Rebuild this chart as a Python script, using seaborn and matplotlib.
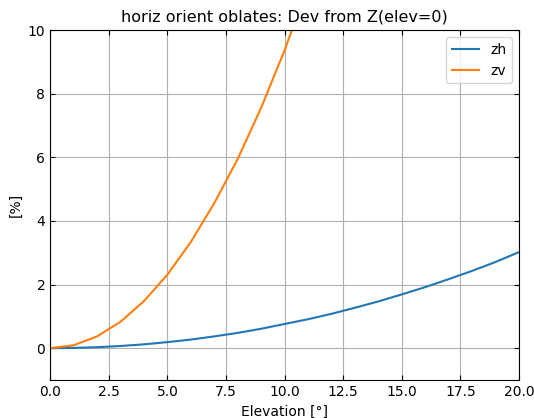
import matplotlib
matplotlib.use("Agg")
import matplotlib.pyplot as plt
import seaborn as sns
import pandas as pd

elev = list(range(0, 21))
zh = [0.0, 0.008, 0.03, 0.068, 0.12, 0.19, 0.27, 0.37, 0.48, 0.61, 0.76,
      0.91, 1.08, 1.27, 1.47, 1.69, 1.92, 2.17, 2.43, 2.71, 3.02]
zv_elev = list(range(0, 12))
zv = [0.0, 0.09, 0.37, 0.83, 1.48, 2.31, 3.34, 4.56, 5.95, 7.56, 9.37, 11.4]

df = pd.concat([
    pd.DataFrame({"elev": elev, "val": zh, "var": "zh"}),
    pd.DataFrame({"elev": zv_elev, "val": zv, "var": "zv"}),
])

plt.rcParams.update({
    "xtick.direction": "in", "ytick.direction": "in",
    "xtick.top": True, "ytick.right": True,
})
fig = plt.figure(figsize=(5.34, 4.18), dpi=100)
ax = fig.add_axes([0.094, 0.091, 0.878, 0.837])
sns.lineplot(data=df, x="elev", y="val", hue="var",
             palette=["#1f77b4", "#ff7f0e"], ax=ax, linewidth=1.5)
ax.set_xlim(0, 20)
ax.set_ylim(-1, 10)
ax.set_yticks([0, 2, 4, 6, 8, 10])
ax.grid(True, color="#b0b0b0", linewidth=0.8)
ax.set_xlabel("Elevation [°]")
ax.set_ylabel("[%]")
ax.set_title("horiz orient oblates: Dev from Z(elev=0)", fontsize=11.5)
ax.legend(loc="upper right", title=None)
fig.savefig("out.png", dpi=100)
